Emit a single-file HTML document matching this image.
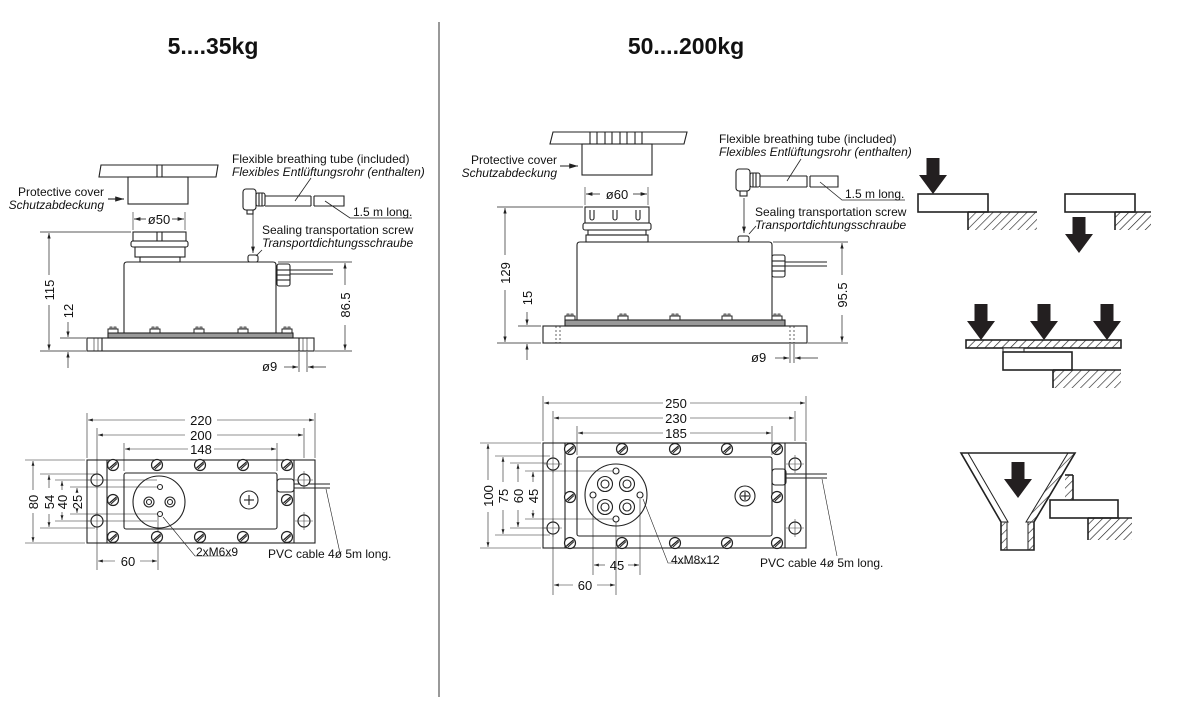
<!DOCTYPE html>
<html><head><meta charset="utf-8"><style>
html,body{margin:0;padding:0;background:#fff}
svg{display:block}
text{font-family:"Liberation Sans",sans-serif;fill:#111}
.t{font-size:12px}
.i{font-size:12px;font-style:italic}
.d{font-size:13px}
.ttl{font-size:23px;font-weight:bold;font-family:"Liberation Sans Narrow","Liberation Sans",sans-serif}
</style></head><body>
<svg width="1200" height="711" viewBox="0 0 1200 711" xmlns="http://www.w3.org/2000/svg">
<defs>
<marker id="a" viewBox="0 0 10 6" refX="10" refY="3" markerWidth="8" markerHeight="5" orient="auto-start-reverse"><path d="M0,0L10,3L0,6z" fill="#222"/></marker>
<pattern id="h" width="6" height="6" patternUnits="userSpaceOnUse" patternTransform="rotate(45)"><line x1="0" y1="0" x2="0" y2="6" stroke="#222" stroke-width="1.3"/></pattern>
<g id="sc"><circle r="5.5" fill="#fff" stroke="#222" stroke-width="1.2"/><line x1="-3.5" y1="3" x2="3.5" y2="-3" stroke="#222" stroke-width="1.3"/><line x1="-2" y1="4" x2="4" y2="-1.5" stroke="#222" stroke-width="1"/></g>
<g id="ho"><circle r="6" fill="#fff" stroke="#222" stroke-width="1.2"/><line x1="-9" y1="0" x2="9" y2="0" stroke="#444" stroke-width="0.6"/><line x1="0" y1="-9" x2="0" y2="9" stroke="#444" stroke-width="0.6"/></g>
<g id="sh"><rect x="-5" y="-4" width="10" height="4" fill="#fff" stroke="#222" stroke-width="1"/><path d="M-3,-4v-2h2v2M1,-4v-2h2v2" fill="none" stroke="#222" stroke-width="0.8"/></g>
<g id="arr"><rect x="-6.5" y="0" width="13" height="18" fill="#231f20"/><path d="M-14,17H14L0,36z" fill="#231f20"/></g>
</defs>

<text class="ttl" x="213" y="54" text-anchor="middle">5....35kg</text>
<text class="ttl" x="686" y="54" text-anchor="middle">50....200kg</text>
<line x1="439" y1="22" x2="439" y2="697" stroke="#333" stroke-width="1"/>

<g fill="none" stroke="#222" stroke-width="1.1">
<!-- LEFT SIDE VIEW -->
<path d="M101,165H218L216,177H99z"/><line x1="157" y1="165" x2="157" y2="177"/><line x1="162" y1="165" x2="162" y2="177"/>
<rect x="128" y="177" width="60" height="27"/>
<line x1="108" y1="199" x2="124" y2="199" marker-end="url(#a)"/>
<line x1="133" y1="212" x2="133" y2="230" stroke-width="0.6"/><line x1="185" y1="212" x2="185" y2="230" stroke-width="0.6"/>
<line x1="134" y1="219" x2="146" y2="219" marker-start="url(#a)" stroke-width="0.8"/><line x1="172" y1="219" x2="184" y2="219" marker-end="url(#a)" stroke-width="0.8"/>
<rect x="133" y="232" width="53" height="9"/><line x1="157" y1="232" x2="157" y2="241"/><line x1="162" y1="232" x2="162" y2="241"/>
<rect x="131" y="241" width="57" height="6" rx="2"/><rect x="135" y="247" width="50" height="10"/><rect x="140" y="257" width="40" height="5"/>
<path d="M124,333V265Q124,262 127,262H273Q276,262 276,265V333"/>
<rect x="248" y="255" width="10" height="7" rx="2"/>
<line x1="253" y1="214" x2="253" y2="253" marker-end="url(#a)" stroke-width="0.8"/>
<rect x="277" y="264" width="13" height="22" rx="2"/><line x1="277" y1="270" x2="290" y2="270"/><line x1="277" y1="275" x2="290" y2="275"/><line x1="277" y1="280" x2="290" y2="280"/>
<line x1="290" y1="270" x2="333" y2="270"/><line x1="290" y1="274" x2="333" y2="274"/>
<rect x="108" y="333" width="185" height="5" fill="#999"/>
<rect x="87" y="338" width="227" height="13"/>
<line x1="102" y1="338" x2="102" y2="351"/><line x1="299" y1="338" x2="299" y2="351"/>
<line x1="94" y1="338" x2="94" y2="351" stroke-width="0.6"/><line x1="98" y1="338" x2="98" y2="351" stroke-width="0.6"/>
<line x1="303" y1="338" x2="303" y2="351" stroke-width="0.6"/><line x1="307" y1="338" x2="307" y2="351" stroke-width="0.6"/>
<!-- breathing tube left -->
<rect x="243" y="189" width="13" height="21" rx="3"/><rect x="247" y="210" width="6" height="4"/>
<rect x="256" y="193" width="9" height="13" rx="2"/><line x1="259" y1="193" x2="259" y2="206"/><line x1="262" y1="193" x2="262" y2="206"/>
<path d="M265,196H311M265,206H311M314,196H344V206H314"/><line x1="311" y1="196" x2="311" y2="206"/><line x1="314" y1="196" x2="314" y2="206"/>
<line x1="295" y1="201" x2="311" y2="178" stroke-width="0.8"/>
<path d="M325,201L350,218H412" stroke-width="0.8"/>
<line x1="262" y1="250" x2="256" y2="256" stroke-width="0.8"/>
<!-- dims left side -->
<g stroke-width="0.7">
<line x1="40" y1="232" x2="131" y2="232"/><line x1="40" y1="351" x2="86" y2="351"/>
<line x1="49" y1="233" x2="49" y2="275" marker-start="url(#a)"/><line x1="49" y1="305" x2="49" y2="350" marker-end="url(#a)"/>
<line x1="60" y1="338" x2="86" y2="338"/>
<line x1="68" y1="322" x2="68" y2="337" marker-end="url(#a)"/><line x1="68" y1="368" x2="68" y2="352" marker-end="url(#a)"/>
<line x1="278" y1="262" x2="352" y2="262"/><line x1="315" y1="351" x2="352" y2="351"/>
<line x1="345" y1="263" x2="345" y2="285" marker-start="url(#a)"/><line x1="345" y1="325" x2="345" y2="350" marker-end="url(#a)"/>
<line x1="299" y1="352" x2="299" y2="372"/><line x1="307" y1="352" x2="307" y2="372"/>
<line x1="284" y1="367" x2="298" y2="367" marker-end="url(#a)"/><line x1="326" y1="367" x2="308" y2="367" marker-end="url(#a)"/>
</g>

<!-- LEFT BOTTOM VIEW -->
<rect x="87" y="460" width="228" height="83"/>
<line x1="107" y1="460" x2="107" y2="543"/><line x1="294" y1="460" x2="294" y2="543"/>
<rect x="124" y="473" width="153" height="56" rx="2"/>
<circle cx="159" cy="502" r="26"/>
<circle cx="149" cy="502" r="5"/><circle cx="149" cy="502" r="2.5"/><circle cx="170" cy="502" r="5"/><circle cx="170" cy="502" r="2.5"/>
<circle cx="160" cy="487" r="2.5"/><circle cx="160" cy="514" r="2.5"/>
<circle cx="249" cy="500" r="9"/><line x1="244" y1="500" x2="254" y2="500"/><line x1="249" y1="495" x2="249" y2="505"/>
<rect x="277" y="479" width="17" height="13" rx="3"/><line x1="294" y1="484" x2="330" y2="484"/><line x1="294" y1="488" x2="330" y2="488"/>
<g stroke-width="0.6">
<line x1="87" y1="413" x2="87" y2="458"/><line x1="315" y1="413" x2="315" y2="458"/>
<line x1="97" y1="428" x2="97" y2="570"/><line x1="304" y1="428" x2="304" y2="458"/>
<line x1="124" y1="443" x2="124" y2="471"/><line x1="277" y1="443" x2="277" y2="471"/>
<line x1="88" y1="420" x2="185" y2="420" marker-start="url(#a)"/><line x1="217" y1="420" x2="314" y2="420" marker-end="url(#a)"/>
<line x1="98" y1="435" x2="185" y2="435" marker-start="url(#a)"/><line x1="217" y1="435" x2="303" y2="435" marker-end="url(#a)"/>
<line x1="125" y1="449" x2="188" y2="449" marker-start="url(#a)"/><line x1="214" y1="449" x2="276" y2="449" marker-end="url(#a)"/>
<line x1="25" y1="460" x2="85" y2="460"/><line x1="25" y1="543" x2="85" y2="543"/>
<line x1="40" y1="474" x2="95" y2="474"/><line x1="40" y1="528" x2="95" y2="528"/>
<line x1="55" y1="480" x2="157" y2="480"/><line x1="55" y1="521" x2="157" y2="521"/>
<line x1="70" y1="487" x2="157" y2="487"/><line x1="70" y1="514" x2="157" y2="514"/>
<line x1="33" y1="461" x2="33" y2="490" marker-start="url(#a)"/><line x1="33" y1="513" x2="33" y2="542" marker-end="url(#a)"/>
<line x1="49" y1="475" x2="49" y2="488" marker-start="url(#a)"/><line x1="49" y1="514" x2="49" y2="527" marker-end="url(#a)"/>
<line x1="62" y1="481" x2="62" y2="490" marker-start="url(#a)"/><line x1="62" y1="512" x2="62" y2="520" marker-end="url(#a)"/>
<line x1="77" y1="488" x2="77" y2="492" marker-start="url(#a)"/><line x1="77" y1="510" x2="77" y2="513" marker-end="url(#a)"/>
<line x1="158" y1="516" x2="158" y2="570"/>
<line x1="98" y1="561" x2="115" y2="561" marker-start="url(#a)"/><line x1="140" y1="561" x2="157" y2="561" marker-end="url(#a)"/>
<path d="M163,517L195,556H232"/>
<line x1="326" y1="489" x2="340" y2="553"/>
</g>
</g>
<use href="#sc" x="113" y="465"/><use href="#sc" x="157" y="465"/><use href="#sc" x="200" y="465"/><use href="#sc" x="243" y="465"/><use href="#sc" x="287" y="465"/>
<use href="#sc" x="113" y="537"/><use href="#sc" x="157" y="537"/><use href="#sc" x="200" y="537"/><use href="#sc" x="243" y="537"/><use href="#sc" x="287" y="537"/>
<use href="#sc" x="113" y="500"/><use href="#sc" x="287" y="500"/>
<use href="#ho" x="97" y="480"/><use href="#ho" x="97" y="521"/><use href="#ho" x="304" y="480"/><use href="#ho" x="304" y="521"/>
<use href="#sh" x="113" y="333"/><use href="#sh" x="155" y="333"/><use href="#sh" x="199" y="333"/><use href="#sh" x="243" y="333"/><use href="#sh" x="287" y="333"/>

<text class="t" x="104" y="196" text-anchor="end">Protective cover</text>
<text class="i" x="104" y="209" text-anchor="end">Schutzabdeckung</text>
<text class="d" x="159" y="224" text-anchor="middle">ø50</text>
<text class="t" x="232" y="163">Flexible breathing tube (included)</text>
<text class="i" x="232" y="176">Flexibles Entlüftungsrohr (enthalten)</text>
<text class="t" x="353" y="216">1.5 m long.</text>
<text class="t" x="262" y="234">Sealing transportation screw</text>
<text class="i" x="262" y="247">Transportdichtungsschraube</text>
<text class="d" transform="translate(54,290) rotate(-90)" text-anchor="middle">115</text>
<text class="d" transform="translate(73,311) rotate(-90)" text-anchor="middle">12</text>
<text class="d" transform="translate(350,305) rotate(-90)" text-anchor="middle">86.5</text>
<text class="d" x="262" y="371">ø9</text>
<text class="d" x="201" y="425" text-anchor="middle">220</text>
<text class="d" x="201" y="440" text-anchor="middle">200</text>
<text class="d" x="201" y="454" text-anchor="middle">148</text>
<text class="d" transform="translate(38,502) rotate(-90)" text-anchor="middle">80</text>
<text class="d" transform="translate(54,502) rotate(-90)" text-anchor="middle">54</text>
<text class="d" transform="translate(67,502) rotate(-90)" text-anchor="middle">40</text>
<text class="d" transform="translate(82,502) rotate(-90)" text-anchor="middle">25</text>
<text class="d" x="128" y="566" text-anchor="middle">60</text>
<text class="t" x="196" y="556">2xM6x9</text>
<text class="t" x="268" y="558">PVC cable 4ø 5m long.</text>

<g fill="none" stroke="#222" stroke-width="1.1">
<!-- RIGHT SIDE VIEW -->
<path d="M553,132H687L684,144H550z"/>
<line x1="590" y1="132" x2="590" y2="144"/><line x1="597" y1="132" x2="597" y2="144"/><line x1="605" y1="132" x2="605" y2="144"/><line x1="612" y1="132" x2="612" y2="144"/><line x1="620" y1="132" x2="620" y2="144"/><line x1="627" y1="132" x2="627" y2="144"/><line x1="635" y1="132" x2="635" y2="144"/><line x1="642" y1="132" x2="642" y2="144"/>
<rect x="582" y="144" width="70" height="31"/>
<line x1="560" y1="166" x2="578" y2="166" marker-end="url(#a)"/>
<line x1="585" y1="187" x2="585" y2="205" stroke-width="0.6"/><line x1="648" y1="187" x2="648" y2="205" stroke-width="0.6"/>
<line x1="586" y1="194" x2="600" y2="194" marker-start="url(#a)" stroke-width="0.8"/><line x1="633" y1="194" x2="647" y2="194" marker-end="url(#a)" stroke-width="0.8"/>
<rect x="585" y="207" width="64" height="16"/>
<path d="M590,210v8a2,2 0 0 0 4,0v-8M613,210v8a2,2 0 0 0 4,0v-8M636,210v8a2,2 0 0 0 4,0v-8"/>
<rect x="583" y="223" width="68" height="7" rx="2"/><rect x="588" y="230" width="58" height="5"/><rect x="586" y="235" width="62" height="7"/>
<path d="M577,322V245Q577,242 580,242H769Q772,242 772,245V322"/>
<rect x="738" y="236" width="11" height="6" rx="2"/>
<line x1="744" y1="198" x2="744" y2="233" marker-end="url(#a)" stroke-width="0.8"/>
<line x1="756" y1="226" x2="749" y2="234" stroke-width="0.8"/>
<rect x="772" y="255" width="13" height="22" rx="2"/><line x1="772" y1="261" x2="785" y2="261"/><line x1="772" y1="266" x2="785" y2="266"/><line x1="772" y1="271" x2="785" y2="271"/>
<line x1="785" y1="262" x2="827" y2="262"/><line x1="785" y1="266" x2="827" y2="266"/>
<rect x="565" y="320" width="220" height="6" fill="#999"/>
<rect x="543" y="326" width="264" height="17"/>
<line x1="556" y1="326" x2="556" y2="343" stroke-dasharray="2,2" stroke-width="0.7"/><line x1="560" y1="326" x2="560" y2="343" stroke-dasharray="2,2" stroke-width="0.7"/>
<line x1="790" y1="326" x2="790" y2="343" stroke-dasharray="2,2" stroke-width="0.7"/><line x1="794" y1="326" x2="794" y2="343" stroke-dasharray="2,2" stroke-width="0.7"/>
<!-- breathing tube right -->
<rect x="736" y="169" width="14" height="22" rx="3"/><rect x="740" y="191" width="7" height="5"/>
<rect x="750" y="173" width="10" height="14" rx="2"/><line x1="753" y1="173" x2="753" y2="187"/><line x1="756" y1="173" x2="756" y2="187"/>
<path d="M760,176H807M760,187H807M810,176H838V187H810"/><line x1="807" y1="176" x2="807" y2="187"/><line x1="810" y1="176" x2="810" y2="187"/>
<line x1="787" y1="181" x2="801" y2="159" stroke-width="0.8"/>
<path d="M820,182L842,200H905" stroke-width="0.8"/>
<g stroke-width="0.7">
<line x1="497" y1="207" x2="583" y2="207"/><line x1="497" y1="343" x2="541" y2="343"/>
<line x1="505" y1="208" x2="505" y2="255" marker-start="url(#a)"/><line x1="505" y1="290" x2="505" y2="342" marker-end="url(#a)"/>
<line x1="518" y1="326" x2="541" y2="326"/>
<line x1="527" y1="312" x2="527" y2="325" marker-end="url(#a)"/><line x1="527" y1="360" x2="527" y2="344" marker-end="url(#a)"/>
<line x1="773" y1="242" x2="848" y2="242"/><line x1="808" y1="343" x2="848" y2="343"/>
<line x1="842" y1="243" x2="842" y2="275" marker-start="url(#a)"/><line x1="842" y1="315" x2="842" y2="342" marker-end="url(#a)"/>
<line x1="790" y1="344" x2="790" y2="363"/><line x1="794" y1="344" x2="794" y2="363"/>
<line x1="775" y1="358" x2="789" y2="358" marker-end="url(#a)"/><line x1="818" y1="358" x2="795" y2="358" marker-end="url(#a)"/>
</g>

<!-- RIGHT BOTTOM VIEW -->
<rect x="543" y="443" width="263" height="105"/>
<line x1="565" y1="443" x2="565" y2="548"/><line x1="785" y1="443" x2="785" y2="548"/>
<rect x="577" y="457" width="195" height="79" rx="2"/>
<circle cx="616" cy="495" r="31"/>
<circle cx="605" cy="484" r="7.5"/><circle cx="605" cy="484" r="4"/><circle cx="627" cy="484" r="7.5"/><circle cx="627" cy="484" r="4"/>
<circle cx="605" cy="507" r="7.5"/><circle cx="605" cy="507" r="4"/><circle cx="627" cy="507" r="7.5"/><circle cx="627" cy="507" r="4"/>
<circle cx="616" cy="471" r="3"/><circle cx="616" cy="519" r="3"/><circle cx="593" cy="495" r="3"/><circle cx="640" cy="495" r="3"/>
<circle cx="745" cy="496" r="10"/><circle cx="745" cy="496" r="5"/><line x1="741" y1="496" x2="749" y2="496"/><line x1="745" y1="492" x2="745" y2="500"/>
<rect x="772" y="469" width="14" height="16" rx="3"/><line x1="786" y1="474" x2="827" y2="474"/><line x1="786" y1="478" x2="827" y2="478"/>
<g stroke-width="0.6">
<line x1="543" y1="396" x2="543" y2="441"/><line x1="806" y1="396" x2="806" y2="441"/>
<line x1="553" y1="411" x2="553" y2="595"/><line x1="795" y1="411" x2="795" y2="441"/>
<line x1="577" y1="426" x2="577" y2="455"/><line x1="772" y1="426" x2="772" y2="455"/>
<line x1="544" y1="403" x2="663" y2="403" marker-start="url(#a)"/><line x1="690" y1="403" x2="805" y2="403" marker-end="url(#a)"/>
<line x1="554" y1="418" x2="663" y2="418" marker-start="url(#a)"/><line x1="690" y1="418" x2="794" y2="418" marker-end="url(#a)"/>
<line x1="578" y1="433" x2="663" y2="433" marker-start="url(#a)"/><line x1="690" y1="433" x2="771" y2="433" marker-end="url(#a)"/>
<line x1="480" y1="443" x2="541" y2="443"/><line x1="480" y1="548" x2="541" y2="548"/>
<line x1="495" y1="456" x2="550" y2="456"/><line x1="495" y1="535" x2="550" y2="535"/>
<line x1="510" y1="463" x2="550" y2="463"/><line x1="510" y1="528" x2="550" y2="528"/>
<line x1="525" y1="471" x2="613" y2="471"/><line x1="525" y1="519" x2="613" y2="519"/>
<line x1="488" y1="444" x2="488" y2="480" marker-start="url(#a)"/><line x1="488" y1="512" x2="488" y2="547" marker-end="url(#a)"/>
<line x1="503" y1="457" x2="503" y2="482" marker-start="url(#a)"/><line x1="503" y1="510" x2="503" y2="534" marker-end="url(#a)"/>
<line x1="518" y1="464" x2="518" y2="482" marker-start="url(#a)"/><line x1="518" y1="510" x2="518" y2="527" marker-end="url(#a)"/>
<line x1="533" y1="472" x2="533" y2="482" marker-start="url(#a)"/><line x1="533" y1="510" x2="533" y2="518" marker-end="url(#a)"/>
<line x1="593" y1="499" x2="593" y2="575"/><line x1="640" y1="499" x2="640" y2="575"/><line x1="616" y1="522" x2="616" y2="595"/>
<line x1="594" y1="565" x2="605" y2="565" marker-start="url(#a)"/><line x1="628" y1="565" x2="639" y2="565" marker-end="url(#a)"/>
<line x1="554" y1="585" x2="573" y2="585" marker-start="url(#a)"/><line x1="597" y1="585" x2="615" y2="585" marker-end="url(#a)"/>
<path d="M643,499L668,563H715"/>
<line x1="822" y1="479" x2="837" y2="556"/>
</g>
</g>
<use href="#sc" x="570" y="449"/><use href="#sc" x="622" y="449"/><use href="#sc" x="675" y="449"/><use href="#sc" x="727" y="449"/><use href="#sc" x="777" y="449"/>
<use href="#sc" x="570" y="543"/><use href="#sc" x="622" y="543"/><use href="#sc" x="675" y="543"/><use href="#sc" x="727" y="543"/><use href="#sc" x="777" y="543"/>
<use href="#sc" x="570" y="497"/><use href="#sc" x="777" y="497"/>
<use href="#ho" x="553" y="464"/><use href="#ho" x="553" y="528"/><use href="#ho" x="795" y="464"/><use href="#ho" x="795" y="528"/>
<use href="#sh" x="570" y="320"/><use href="#sh" x="623" y="320"/><use href="#sh" x="675" y="320"/><use href="#sh" x="727" y="320"/><use href="#sh" x="777" y="320"/>

<text class="t" x="557" y="164" text-anchor="end">Protective cover</text>
<text class="i" x="557" y="177" text-anchor="end">Schutzabdeckung</text>
<text class="d" x="617" y="199" text-anchor="middle">ø60</text>
<text class="t" x="719" y="143">Flexible breathing tube (included)</text>
<text class="i" x="719" y="156">Flexibles Entlüftungsrohr (enthalten)</text>
<text class="t" x="845" y="198">1.5 m long.</text>
<text class="t" x="755" y="216">Sealing transportation screw</text>
<text class="i" x="755" y="229">Transportdichtungsschraube</text>
<text class="d" transform="translate(510,273) rotate(-90)" text-anchor="middle">129</text>
<text class="d" transform="translate(532,298) rotate(-90)" text-anchor="middle">15</text>
<text class="d" transform="translate(847,295) rotate(-90)" text-anchor="middle">95.5</text>
<text class="d" x="751" y="362">ø9</text>
<text class="d" x="676" y="408" text-anchor="middle">250</text>
<text class="d" x="676" y="423" text-anchor="middle">230</text>
<text class="d" x="676" y="438" text-anchor="middle">185</text>
<text class="d" transform="translate(493,496) rotate(-90)" text-anchor="middle">100</text>
<text class="d" transform="translate(508,496) rotate(-90)" text-anchor="middle">75</text>
<text class="d" transform="translate(523,496) rotate(-90)" text-anchor="middle">60</text>
<text class="d" transform="translate(538,496) rotate(-90)" text-anchor="middle">45</text>
<text class="d" x="617" y="570" text-anchor="middle">45</text>
<text class="d" x="585" y="590" text-anchor="middle">60</text>
<text class="t" x="671" y="564">4xM8x12</text>
<text class="t" x="760" y="567">PVC cable 4ø 5m long.</text>

<!-- SCHEMATICS -->
<g stroke="#222" stroke-width="1.6">
<use href="#arr" x="933" y="158" stroke="none"/>
<rect x="918" y="194" width="70" height="18" fill="#fff"/>
<rect x="968" y="212" width="69" height="18" fill="url(#h)" stroke="none"/><line x1="968" y1="212" x2="1037" y2="212"/><line x1="968" y1="212" x2="968" y2="230"/>
<rect x="1065" y="194" width="70" height="18" fill="#fff"/>
<rect x="1115" y="212" width="36" height="18" fill="url(#h)" stroke="none"/><line x1="1115" y1="212" x2="1151" y2="212"/><line x1="1115" y1="212" x2="1115" y2="230"/>
<use href="#arr" x="1079" y="217" stroke="none"/>
<use href="#arr" x="981" y="304" stroke="none"/><use href="#arr" x="1044" y="304" stroke="none"/><use href="#arr" x="1107" y="304" stroke="none"/>
<rect x="966" y="340" width="155" height="8" fill="url(#h)"/>
<rect x="1003" y="348" width="21" height="4" fill="#fff" stroke-width="1"/>
<rect x="1003" y="352" width="69" height="18" fill="#fff"/>
<rect x="1053" y="370" width="68" height="18" fill="url(#h)" stroke="none"/><line x1="1053" y1="370" x2="1121" y2="370"/><line x1="1053" y1="370" x2="1053" y2="388"/>
<path d="M1065,475H1073V500H1065z" fill="url(#h)" stroke="none"/>
<path d="M961,453H1075L1034,522V550H1001V522z" fill="#fff"/>
<path d="M1068,453L1075,453L1034,522L1026,522z" fill="url(#h)" stroke-width="1"/>
<path d="M961,453L968,453L1008,522L1001,522z" fill="none" stroke-width="1"/>
<rect x="1001" y="522" width="6" height="28" fill="url(#h)" stroke-width="1"/>
<rect x="1028" y="522" width="6" height="28" fill="url(#h)" stroke-width="1"/>
<line x1="1065" y1="475" x2="1073" y2="475"/><line x1="1073" y1="475" x2="1073" y2="500"/>
<use href="#arr" x="1018" y="462" stroke="none"/>
<rect x="1050" y="500" width="68" height="18" fill="#fff"/>
<rect x="1088" y="518" width="44" height="22" fill="url(#h)" stroke="none"/><line x1="1088" y1="518" x2="1132" y2="518"/><line x1="1088" y1="518" x2="1088" y2="540"/>
</g>
</svg>
</body></html>
